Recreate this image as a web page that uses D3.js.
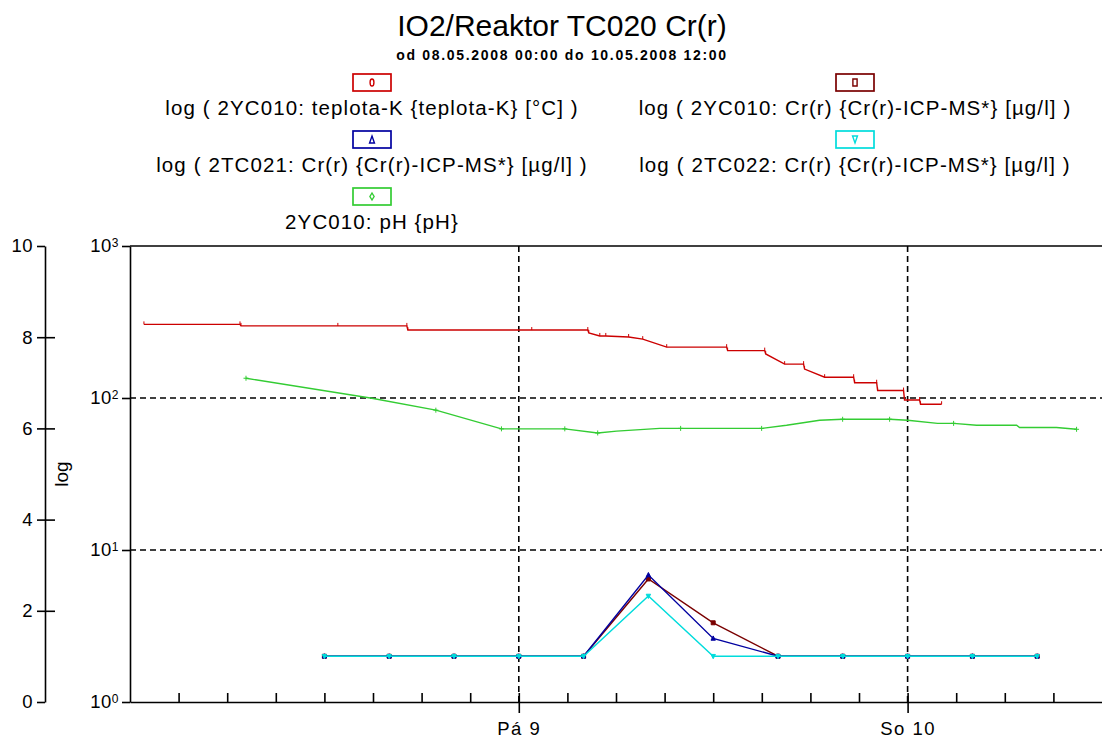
<!DOCTYPE html>
<html>
<head>
<meta charset="utf-8">
<script src="https://cdn.jsdelivr.net/npm/d3@7"></script>
<style>
  body { margin: 0; background: #fff; }
  text { font-family: "Liberation Sans", Arial, sans-serif; fill: #000; }
</style>
</head>
<body>
<svg id="chart" width="1102" height="740"></svg>
<script>
// --- data (hours from 08.05.2008 00:00) ---
const tempHours = [0.86, 6.79, 6.85, 12.83, 17.09, 17.15, 24.80, 28.26, 28.32, 29.00, 29.37, 30.78, 31.65, 33.13, 36.83, 36.89,
    39.18, 39.24, 40.41, 41.58, 41.64, 42.88, 44.67, 44.73, 46.09, 46.15, 47.75, 47.81, 48.74, 48.80, 50.10];
const tempValues = [305, 305, 298, 298, 298, 280, 280, 280, 268, 256, 256, 252, 244, 216, 216, 205,
    205, 195, 167, 167, 155, 137, 137, 126, 126, 112, 112, 97, 97, 91, 91];

const phHours = [7.16, 14.93, 18.88, 22.93, 26.84, 28.87, 30.04, 32.70, 33.99, 38.99, 40.53, 42.57, 43.99, 46.89, 48.00,
    49.85, 50.84, 52.26, 54.73, 54.91, 57.19, 58.43];
const phValues = [7.10, 6.66, 6.40, 5.99, 5.99, 5.90, 5.94, 6.00, 6.00, 6.00, 6.07, 6.18, 6.20, 6.20, 6.18,
    6.11, 6.11, 6.07, 6.07, 6.02, 6.02, 5.98];
const phMarks = [1, 0, 1, 1, 1, 1, 0, 0, 1, 1, 0, 0, 1, 1, 0, 0, 1, 0, 0, 0, 0, 1];

const crHours = [12, 16, 20, 24, 28, 32, 36, 40, 44, 48, 52, 56];
const cr2YC010 = [2, 2, 2, 2, 2, 6.45, 3.32, 2, 2, 2, 2, 2];
const cr2TC021 = [2, 2, 2, 2, 2, 6.85, 2.62, 2, 2, 2, 2, 2];
const cr2TC022 = [2, 2, 2, 2, 2, 4.98, 2, 2, 2, 2, 2, 2];

const legendLabels = [
    "log ( 2YC010: teplota-K {teplota-K} [°C] )",
    "log ( 2YC010: Cr(r) {Cr(r)-ICP-MS*} [µg/l] )",
    "log ( 2TC021: Cr(r) {Cr(r)-ICP-MS*} [µg/l] )",
    "log ( 2TC022: Cr(r) {Cr(r)-ICP-MS*} [µg/l] )",
    "2YC010: pH {pH}"
];
const phTicks = [0, 2, 4, 6, 8, 10];
const logTicks = [1, 10, 100, 1000];
const dayNames = ["Ne", "Po", "Út", "St", "Čt", "Pá", "So"];

const COLORS = {
    temp: "#cc0000",
    cr1: "#7a0000",
    cr21: "#0000a0",
    cr22: "#00dcdc",
    ph: "#33cc33"
};

const START = new Date(2008, 4, 8, 0, 0);
const END = new Date(2008, 4, 10, 12, 0);
const toDate = h => new Date(START.getTime() + h * 3600e3);

const svg = d3.select("#chart");

const plotTop = 246, plotBottom = 702, plotLeft = 130, plotRight = 1102;

const x = d3.scaleTime().domain([START, END]).range([plotLeft, plotRight]);
const yLog = d3.scaleLog().domain([1, 1000]).range([plotBottom, plotTop]);
const yPh = d3.scaleLinear().domain([0, 10]).range([plotBottom, plotTop]);

// title
svg.append("text")
    .attr("x", 562).attr("y", 36)
    .attr("text-anchor", "middle")
    .style("font-size", "30px")
    .text("IO2/Reaktor TC020 Cr(r)");
svg.append("text")
    .attr("x", 562).attr("y", 60)
    .attr("text-anchor", "middle")
    .style("font-size", "14px").style("font-weight", "bold").style("letter-spacing", "1.7px")
    .text("od 08.05.2008 00:00 do 10.05.2008 12:00");

// legend
const legendColors = [COLORS.temp, COLORS.cr1, COLORS.cr21, COLORS.cr22, COLORS.ph];
const legendSymbols = ["circle", "square", "triangle", "down", "diamond"];
const colCenters = [372, 855];

function symbolPath(kind, s) {
    // small tall glyph-like markers
    if (kind === "circle") return `M0,${-s}A${s * 0.55},${s} 0 1,1 0,${s}A${s * 0.55},${s} 0 1,1 0,${-s}Z`;
    if (kind === "square") return `M${-s * 0.6},${-s}H${s * 0.6}V${s}H${-s * 0.6}Z`;
    if (kind === "triangle") return `M0,${-s}L${s * 0.7},${s}H${-s * 0.7}Z`;
    if (kind === "down") return `M0,${s}L${s * 0.7},${-s}H${-s * 0.7}Z`;
    return `M0,${-s}L${s * 0.6},0L0,${s}L${-s * 0.6},0Z`;
}

legendLabels.forEach((label, i) => {
    const cx = colCenters[i % 2];
    const top = 74 + Math.floor(i / 2) * 57;
    const g = svg.append("g");
    g.append("rect")
        .attr("x", cx - 19).attr("y", top)
        .attr("width", 38).attr("height", 17)
        .attr("fill", "#fff")
        .attr("stroke", legendColors[i]).attr("stroke-width", 1.7);
    g.append("path")
        .attr("transform", `translate(${cx},${top + 8.5})`)
        .attr("d", symbolPath(legendSymbols[i], 3.5))
        .attr("fill", "none")
        .attr("stroke", legendColors[i]).attr("stroke-width", 1.4);
    g.append("text")
        .attr("x", cx).attr("y", top + 41)
        .attr("text-anchor", "middle")
        .style("font-size", "20.5px").style("letter-spacing", "1.1px")
        .text(label);
});

// gridlines
const midnights = [new Date(2008, 4, 9), new Date(2008, 4, 10)];
svg.append("g").selectAll("line")
    .data(midnights)
    .join("line")
    .attr("x1", d => x(d)).attr("x2", d => x(d))
    .attr("y1", plotTop).attr("y2", plotBottom)
    .attr("stroke", "#000").attr("stroke-width", 1.6).attr("stroke-dasharray", "6,4");
svg.append("g").selectAll("line")
    .data([10, 100])
    .join("line")
    .attr("x1", plotLeft).attr("x2", plotRight)
    .attr("y1", d => yLog(d)).attr("y2", d => yLog(d))
    .attr("stroke", "#000").attr("stroke-width", 1.6).attr("stroke-dasharray", "6,4");

// pH axis (left)
const phAxis = svg.append("g")
    .attr("transform", "translate(45,0)")
    .call(d3.axisLeft(yPh).tickValues(phTicks).tickSizeInner(8).tickSizeOuter(0).tickPadding(4));
phAxis.selectAll(".tick line").attr("x1", d => (d === 0 || d === 10) ? 0 : 10);
phAxis.selectAll("line, path").attr("stroke", "#000").attr("stroke-width", 1.6);
phAxis.selectAll("text").style("font-size", "18.5px").style("letter-spacing", "0.5px")
    .style("font-family", "Liberation Sans, Arial, sans-serif").attr("fill", "#000");

// log axis
const logAxis = svg.append("g")
    .attr("transform", `translate(${plotLeft},0)`)
    .call(d3.axisLeft(yLog).tickValues(logTicks).tickSizeInner(8).tickSizeOuter(0).tickPadding(3).tickFormat(() => "10"));
logAxis.selectAll("line, path").attr("stroke", "#000").attr("stroke-width", 1.6);
logAxis.selectAll("text").style("font-size", "18.5px").style("letter-spacing", "0.5px")
    .style("font-family", "Liberation Sans, Arial, sans-serif").attr("fill", "#000");
logAxis.selectAll(".tick text").append("tspan")
    .attr("dy", "-0.45em")
    .style("font-size", "12px")
    .text(d => Math.round(Math.log10(d)));

svg.append("text")
    .attr("transform", "translate(68,474) rotate(-90)")
    .attr("text-anchor", "middle")
    .style("font-size", "19px")
    .text("log");

// top frame line
svg.append("line")
    .attr("x1", plotLeft).attr("x2", plotRight)
    .attr("y1", plotTop).attr("y2", plotTop)
    .attr("stroke", "#000").attr("stroke-width", 1.6);

// time axis
const timeTicks = d3.timeHour.every(3).range(toDate(1), END);
const xAxis = svg.append("g")
    .attr("transform", `translate(0,${plotBottom})`)
    .call(d3.axisBottom(x).tickValues(timeTicks).tickSizeInner(-9).tickSizeOuter(0).tickPadding(20)
        .tickFormat(d => d.getHours() === 0 ? dayNames[d.getDay()] + " " + d.getDate() : ""));
xAxis.selectAll("line, path").attr("stroke", "#000").attr("stroke-width", 1.6);
xAxis.selectAll(".tick line").filter(d => d.getHours() === 0).attr("y1", -9).attr("y2", 11);
xAxis.selectAll("text").style("font-size", "18.5px").style("letter-spacing", "1.5px")
    .style("font-family", "Liberation Sans, Arial, sans-serif").attr("fill", "#000");

// series
function toPoints(hours, values) {
    return hours.map((h, i) => ({ t: toDate(h), v: values[i], i }));
}

function drawSeries(points, yScale, color, marker, markFlags) {
    const g = svg.append("g");
    g.append("path")
        .datum(points)
        .attr("fill", "none")
        .attr("stroke", color).attr("stroke-width", 1.4)
        .attr("d", d3.line().x(d => x(d.t)).y(d => yScale(d.v)));
    g.selectAll("path.m")
        .data(markFlags ? points.filter(p => markFlags[p.i]) : points)
        .join("path")
        .attr("class", "m")
        .attr("transform", d => `translate(${x(d.t)},${yScale(d.v)})`)
        .attr("d", marker)
        .attr("fill", color === COLORS.ph ? "none" : color)
        .attr("stroke", color).attr("stroke-width", 1);
}

const tickMark = "M0,-3V0";
const plusMark = "M-2.5,0H2.5M0,-2.5V2.5";

drawSeries(toPoints(tempHours, tempValues), yLog, COLORS.temp, tickMark);
drawSeries(toPoints(phHours, phValues), yPh, COLORS.ph, plusMark, phMarks);
drawSeries(toPoints(crHours, cr2YC010), yLog, COLORS.cr1, "M-2,-2H2V2H-2Z");
drawSeries(toPoints(crHours, cr2TC021), yLog, COLORS.cr21, "M0,-2.5L2.2,1.8H-2.2Z");
drawSeries(toPoints(crHours, cr2TC022), yLog, COLORS.cr22, "M0,2.5L2.2,-1.8H-2.2Z");
</script>
</body>
</html>
